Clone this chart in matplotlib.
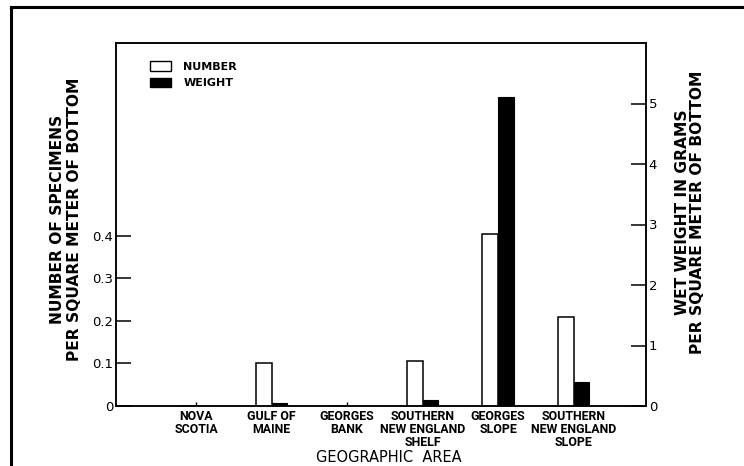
import matplotlib
matplotlib.use("Agg")
import matplotlib.pyplot as plt
from matplotlib.patches import Patch
from matplotlib.lines import Line2D
import numpy as np

areas = ["NOVA\nSCOTIA", "GULF OF\nMAINE", "GEORGES\nBANK",
         "SOUTHERN\nNEW ENGLAND\nSHELF", "GEORGES\nSLOPE",
         "SOUTHERN\nNEW ENGLAND\nSLOPE"]
number_per_m2 = [0.0, 0.10, 0.0, 0.107, 0.405, 0.21]
weight_g_per_m2 = [0.0, 0.05, 0.0, 0.10, 5.1, 0.40]
left_ticks = [0, 0.1, 0.2, 0.3, 0.4]
left_ticklabels = ["0", "0.1", "0.2", "0.3", "0.4"]
right_ticks = [0, 1, 2, 3, 4, 5]

W, H = 744, 466
fig = plt.figure(figsize=(W / 100, H / 100), dpi=100)
fig.patch.set_facecolor("white")

ax = fig.add_axes([116 / W, 1 - 406 / H, 530 / W, 363 / H])
ax2 = ax.twinx()

x = np.arange(len(areas))
bw = 0.21
ax.bar(x - bw / 2, number_per_m2, width=bw, facecolor="white",
       edgecolor="black", linewidth=1.1, zorder=3)
ax2.bar(x + bw / 2, weight_g_per_m2, width=bw, facecolor="black",
        edgecolor="black", linewidth=0.8, zorder=3)

ax.set_xlim(-1.06, 5.96)
ax.set_ylim(0, 0.854)
ax2.set_ylim(0, 6.0)

for a in (ax, ax2):
    for s in a.spines.values():
        s.set_linewidth(1.1)

narrow = ["Roboto", "DejaVu Sans"]

ax.set_xticks(x)
ax.set_xticklabels(areas, fontsize=8.9, fontweight="bold", family=narrow,
                   linespacing=1.0)
ax.tick_params(axis="x", direction="in", length=3, width=1.0, pad=3)
ax.set_yticks(left_ticks)
ax.set_yticklabels(left_ticklabels, fontsize=9.5)
ax.tick_params(axis="y", direction="in", length=11, width=1.1, pad=2)
ax2.set_yticks(right_ticks)
ax2.tick_params(axis="y", direction="in", length=11, width=1.1, pad=2,
                labelsize=9.5)

fig.text(66 / W, 1 - 219 / H,
         "NUMBER OF SPECIMENS\nPER SQUARE METER OF BOTTOM",
         rotation=90, ha="center", va="center", ma="center",
         fontsize=11.2, fontweight="bold", linespacing=1.15)
fig.text(690 / W, 1 - 212 / H,
         "WET WEIGHT IN GRAMS\nPER SQUARE METER OF BOTTOM",
         rotation=90, ha="center", va="center", ma="center",
         fontsize=11.2, fontweight="bold", linespacing=1.0)
fig.text(389 / W, 1 - 457 / H, "GEOGRAPHIC  AREA", ha="center",
         va="center", fontsize=10.5)

handles = [Patch(facecolor="white", edgecolor="black", linewidth=1.0),
           Patch(facecolor="black", edgecolor="black")]
ax.legend(handles, ["NUMBER", "WEIGHT"], loc="upper left",
          bbox_to_anchor=(0.064, 0.95), frameon=False, borderpad=0,
          borderaxespad=0, handlelength=1.9, handleheight=0.95,
          handletextpad=1.1, labelspacing=0.55,
          prop={"weight": "bold", "size": 8})

# outer frame around the figure
fig.add_artist(Line2D([11 / W, 1.0], [1 - 7 / H, 1 - 7 / H],
                      transform=fig.transFigure, color="black", lw=2.2))
fig.add_artist(Line2D([11 / W, 11 / W], [1 - 7 / H, 0.0],
                      transform=fig.transFigure, color="black", lw=2.2))

fig.savefig("out.png", dpi=100, facecolor="white")
